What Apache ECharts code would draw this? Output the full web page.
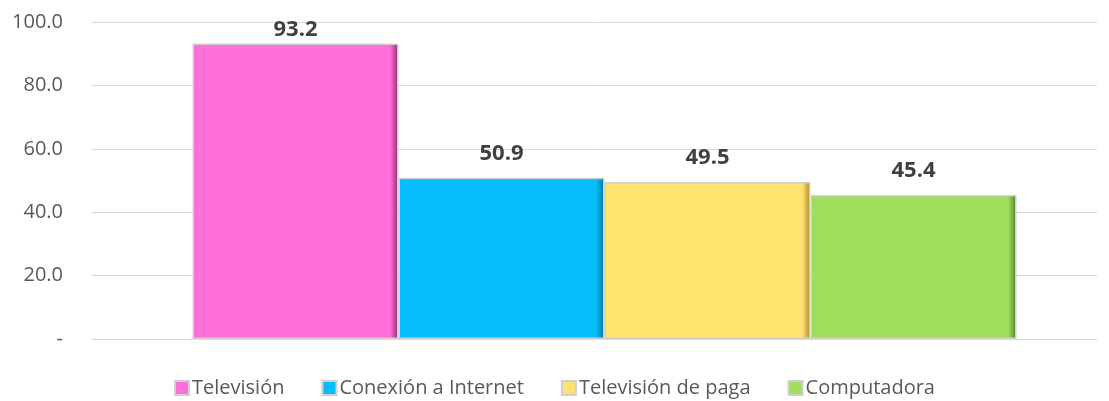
<!DOCTYPE html>
<html>
<head>
<meta charset="utf-8">
<script src="https://cdn.jsdelivr.net/npm/echarts@6/dist/echarts.min.js"></script>
<style>
  html, body { margin: 0; padding: 0; background: #fff; }
  #chart { width: 1109px; height: 401px; }
</style>
</head>
<body>
<div id="chart"></div>
<script>
const names = ['Televisión', 'Conexión a Internet', 'Televisión de paga', 'Computadora']
const values = [93.2, 50.9, 49.5, 45.4]
const colors = ['#ff6fd9', '#06bdfb', '#ffe36f', '#9fdf5b']
const edges = ['#8a2a73', '#0a6f93', '#a88a2c', '#4f7d2a']
const yTicks = ['-', '20.0', '40.0', '60.0', '80.0', '100.0']

const chart = echarts.init(document.getElementById('chart'))

// flat fill with a darker strip on the right, a bit like the bevel
function fill(c, e) {
  return new echarts.graphic.LinearGradient(0, 0, 1, 0, [
    { offset: 0, color: c },
    { offset: 0.96, color: c },
    { offset: 1, color: e },
  ])
}

chart.setOption({
  animation: false,
  textStyle: { fontFamily: 'Open Sans' },
  legend: {
    top: 373,
    left: 'center',
    icon: 'rect',
    itemWidth: 14,
    itemHeight: 14,
    itemGap: 37,
    textStyle: { fontSize: 20, color: '#595959', padding: [0, 0, 0, -2] },
    data: names,
  },
  grid: [
    { left: 92, right: 12, top: 22, bottom: 62 },
    { left: 112, right: 12, top: 22, bottom: 62 },
  ],
  xAxis: [
    { gridIndex: 0, type: 'category', data: [''], show: false },
    {
      gridIndex: 1, type: 'category', data: [''],
      axisLine: { show: false }, axisTick: { show: false }, axisLabel: { show: false },
    },
  ],
  yAxis: [
    {
      gridIndex: 0, type: 'value', min: 0, max: 100, interval: 20,
      axisLine: { show: false }, axisTick: { show: false },
      axisLabel: { fontSize: 20, color: '#595959', margin: 29, formatter: v => yTicks[v / 20] },
      splitLine: { lineStyle: { color: '#d9d9d9', width: 1 } },
    },
    {
      gridIndex: 1, type: 'value', min: 0, max: 100, interval: 20, show: false,
      splitLine: { show: false },
    },
  ],
  series: names.map((n, i) => ({
    name: n,
    type: 'bar',
    xAxisIndex: 1,
    yAxisIndex: 1,
    barWidth: 206,
    barGap: '0%',
    data: [{
      value: values[i],
      label: { distance: i === 0 ? 3 : 13 },
    }],
    itemStyle: {
      color: fill(colors[i], edges[i]),
      borderColor: '#d0d0d0',
      borderWidth: 1.5,
    },
    label: {
      show: true,
      position: 'top',
      fontSize: 22,
      fontWeight: 'bold',
      color: '#404040',
      formatter: p => p.value.toFixed(1),
    },
  })),
  color: colors,
})
</script>
</body>
</html>
